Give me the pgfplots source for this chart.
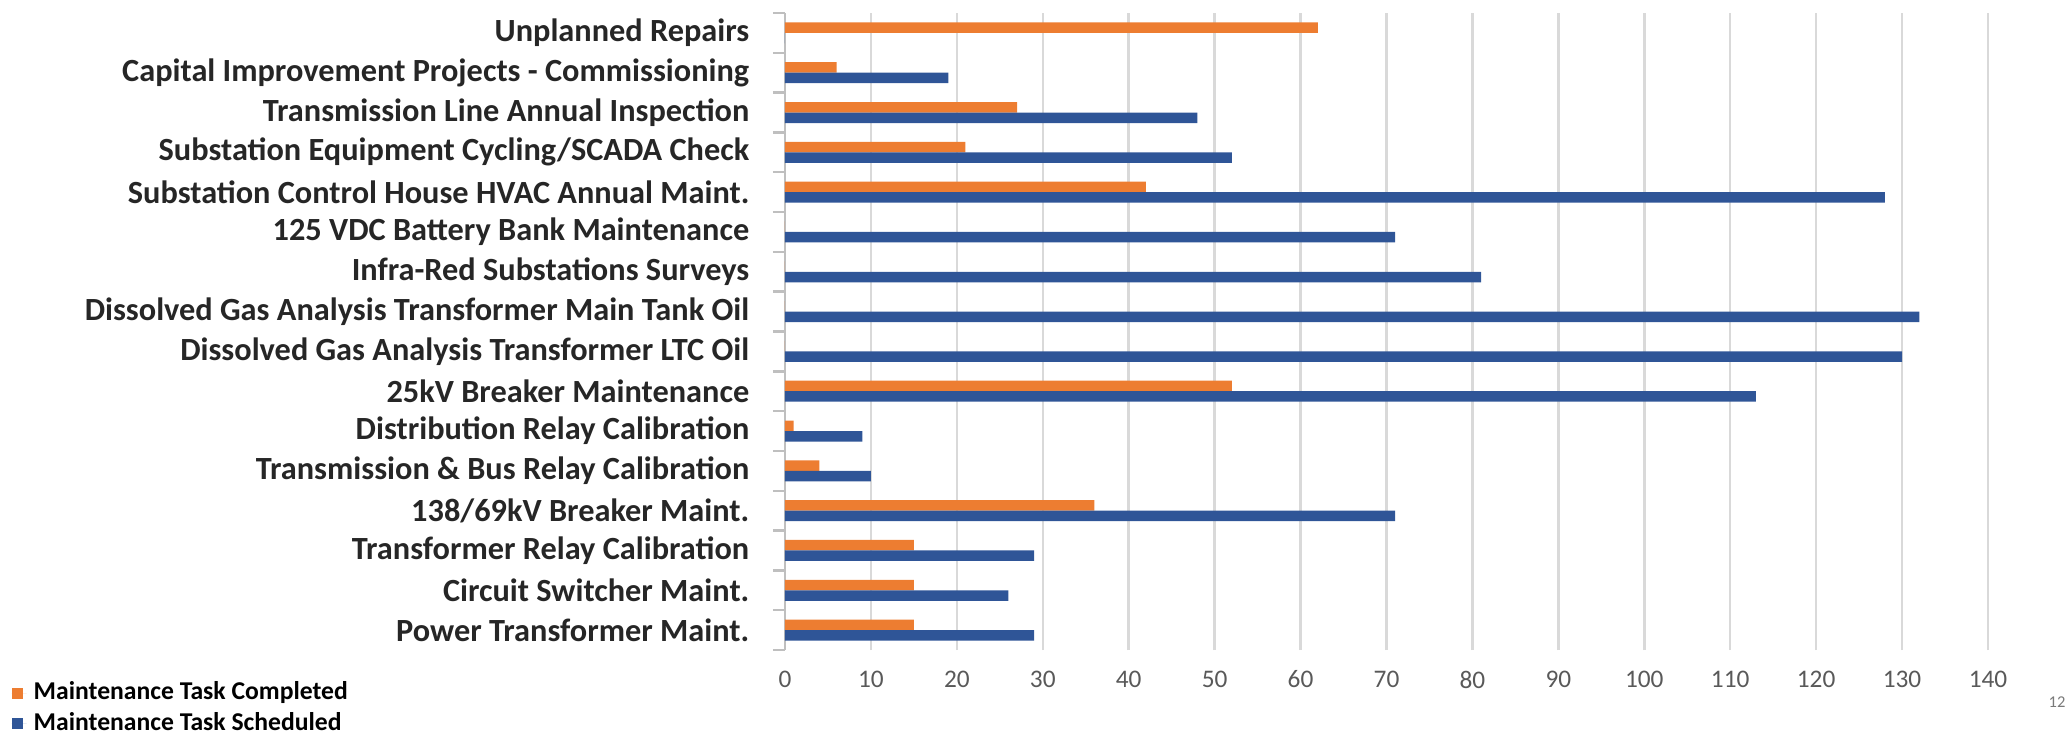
\documentclass[border=0pt]{standalone}
\usepackage{pgfplots}
\usepackage{pgfplotstable}
\pgfplotsset{compat=1.18}
\usepackage{fontspec}
\setmainfont{Carlito}

\definecolor{doneC}{HTML}{ED7D31}
\definecolor{schedC}{HTML}{2F5597}
\definecolor{gridC}{HTML}{D9D9D9}
\definecolor{axisC}{HTML}{BFBFBF}
\definecolor{tickC}{HTML}{595959}
\definecolor{labelC}{HTML}{262626}

% Maintenance tasks, bottom (0) to top (15)
\pgfplotstableread{
idx completed scheduled
0  15  29
1  15  26
2  15  29
3  36  71
4  4   10
5  1   9
6  52  113
7  0   130
8  0   132
9  0   81
10 0   71
11 42  128
12 21  52
13 27  48
14 6   19
15 62  0
}\tasks

\begin{document}
\begin{tikzpicture}
\begin{axis}[
  scale only axis,
  width=12.03cm, height=6.37cm,
  xmin=0, xmax=140,
  ymin=-0.5, ymax=15.5,
  xtick={0,10,...,140},
  ytick={0,...,15},
  yticklabels={
    Power Transformer Maint.,
    Circuit Switcher Maint.,
    Transformer Relay Calibration,
    138/69kV Breaker Maint.,
    Transmission \& Bus Relay Calibration,
    Distribution Relay Calibration,
    25kV Breaker Maintenance,
    Dissolved Gas Analysis Transformer LTC Oil,
    Dissolved Gas Analysis Transformer Main Tank Oil,
    Infra-Red Substations Surveys,
    125 VDC Battery Bank Maintenance,
    Substation Control House HVAC Annual Maint.,
    Substation Equipment Cycling/SCADA Check,
    Transmission Line Annual Inspection,
    Capital Improvement Projects - Commissioning,
    Unplanned Repairs},
  axis lines*=left,
  x axis line style={draw=none},
  y axis line style={draw=axisC, line width=0.7pt},
  xmajorgrids,
  grid style={gridC, line width=0.7pt},
  major tick length=0pt,
  extra y ticks={-0.5,0.5,...,15.5},
  extra y tick labels={},
  extra y tick style={major tick length=0.12cm, tick align=outside,
    tick style={draw=axisC, line width=0.7pt}, grid=none},
  /pgf/number format/assume math mode=true,
  xticklabel style={anchor=center, inner sep=0pt, yshift=-0.295cm,
    text=tickC, font=\fontsize{7.2}{8}\selectfont},
  yticklabel style={anchor=east, inner sep=0pt, xshift=-0.35cm,
    text=labelC, font=\bfseries\fontsize{9.2}{11}\selectfont},
  legend style={at={(axis description cs:-0.6434,0)}, anchor=north west,
    yshift=-0.24cm, draw=none, fill=none, inner sep=0pt,
    font=\bfseries\fontsize{7.3}{8}\selectfont,
    row sep=-0.07cm, legend cell align=left},
  legend image code/.code={%
    \fill[#1] (0cm,-0.055cm) rectangle (0.11cm,0.055cm);
    \path (0cm,0cm) -- (0.15cm,0cm);},
  clip=false,
]
\addplot[xbar, bar width=0.105cm, bar shift=0.0525cm, fill=doneC, draw=none]
  table[x=completed, y=idx] {\tasks};
\addlegendentry{Maintenance Task Completed}
\addplot[xbar, bar width=0.105cm, bar shift=-0.0525cm, fill=schedC, draw=none]
  table[x=scheduled, y=idx] {\tasks};
\addlegendentry{Maintenance Task Scheduled}
\end{axis}
\node[font=\fontsize{4.7}{5}\selectfont, text=tickC!80]
  at ([xshift=0.69cm,yshift=-0.52cm]current axis.south east) {12};
\pgfresetboundingbox
\path[use as bounding box]
  ([xshift=-7.85cm,yshift=-0.85cm]current axis.south west)
  rectangle ([xshift=0.82cm,yshift=0.13cm]current axis.north east);
\end{tikzpicture}
\end{document}
